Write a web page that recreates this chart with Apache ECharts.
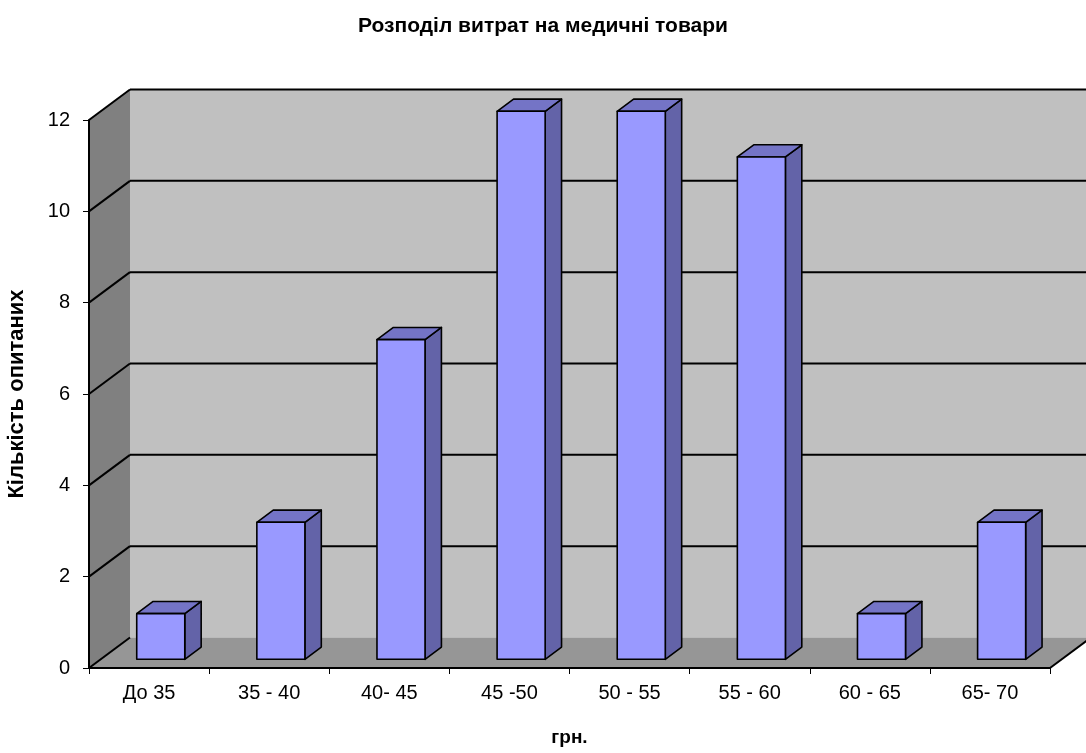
<!DOCTYPE html>
<html>
<head>
<meta charset="utf-8">
<style>
  html, body { margin: 0; padding: 0; background: #fff; }
  #chart { width: 1086px; height: 753px; }
</style>
<script src="https://cdn.jsdelivr.net/npm/echarts@6/dist/echarts.min.js"></script>
</head>
<body>
<div id="chart"></div>
<script>
// Spending ranges (UAH) and number of respondents in each
const categories = ['До 35', '35 - 40', '40- 45', '45 -50', '50 - 55', '55 - 60', '60 - 65', '65- 70'];
const respondents = [1, 3, 7, 12, 12, 11, 1, 3];
const yTicks = [0, 2, 4, 6, 8, 10, 12];

// Oblique projection of the depth axis (pixels for full depth)
const DEPTH_X = 41;
const DEPTH_Y = -30.5;
// Bars occupy this slice of the depth and of the category band
const BAR_FRONT = 0.285;
const BAR_BACK = 0.685;
const BAR_WIDTH = 0.4;

const FONT = '"Liberation Sans", Arial, sans-serif';

const chart = echarts.init(document.getElementById('chart'));

function wallsItem(params, api) {
  const band = api.size([1, 0])[0];
  const first = api.coord([0, 0]);
  const last = api.coord([categories.length - 1, 0]);
  const xL = first[0] - band / 2;
  const xR = last[0] + band / 2;
  const y0 = first[1];
  const yTop = api.coord([0, yTicks[yTicks.length - 1]])[1];
  const children = [];
  // back wall
  children.push({
    type: 'polygon',
    shape: { points: [[xL + DEPTH_X, yTop + DEPTH_Y], [xR + DEPTH_X, yTop + DEPTH_Y], [xR + DEPTH_X, y0 + DEPTH_Y], [xL + DEPTH_X, y0 + DEPTH_Y]] },
    style: { fill: '#C0C0C0' }
  });
  // side wall
  children.push({
    type: 'polygon',
    shape: { points: [[xL, yTop], [xL + DEPTH_X, yTop + DEPTH_Y], [xL + DEPTH_X, y0 + DEPTH_Y], [xL, y0]] },
    style: { fill: '#808080' }
  });
  // floor
  children.push({
    type: 'polygon',
    shape: { points: [[xL, y0], [xR, y0], [xR + DEPTH_X, y0 + DEPTH_Y], [xL + DEPTH_X, y0 + DEPTH_Y]] },
    style: { fill: '#969696' }
  });
  children.push({
    type: 'line',
    shape: { x1: xR, y1: y0, x2: xR + DEPTH_X, y2: y0 + DEPTH_Y },
    style: { stroke: '#000', lineWidth: 2 }
  });
  // gridlines across the side wall and the back wall
  yTicks.forEach(function (v) {
    const y = api.coord([0, v])[1];
    children.push({
      type: 'line',
      shape: { x1: xL, y1: y, x2: xL + DEPTH_X, y2: y + DEPTH_Y },
      style: { stroke: '#000', lineWidth: 2 }
    });
    if (v > 0) {
      children.push({
        type: 'line',
        shape: { x1: xL + DEPTH_X, y1: y + DEPTH_Y, x2: xR + DEPTH_X + 10, y2: y + DEPTH_Y },
        style: { stroke: '#000', lineWidth: 2 }
      });
    }
  });
  return { type: 'group', children: children };
}

function barItem(params, api) {
  const idx = api.value(0);
  const top = api.coord([idx, api.value(1)]);
  const base = api.coord([idx, 0]);
  const band = api.size([1, 0])[0];
  const w = band * BAR_WIDTH;
  const fx = BAR_FRONT * DEPTH_X, fy = BAR_FRONT * DEPTH_Y;
  const bx = (BAR_BACK - BAR_FRONT) * DEPTH_X, by = (BAR_BACK - BAR_FRONT) * DEPTH_Y;
  const x0 = top[0] - w / 2 + fx, x1 = top[0] + w / 2 + fx;
  const yT = top[1] + fy, yB = base[1] + fy;
  const edge = { stroke: '#000', lineWidth: 1.6, lineJoin: 'round' };
  return {
    type: 'group',
    children: [
      {
        type: 'polygon',
        shape: { points: [[x1, yT], [x1 + bx, yT + by], [x1 + bx, yB + by], [x1, yB]] },
        style: Object.assign({ fill: '#6363A8' }, edge)
      },
      {
        type: 'polygon',
        shape: { points: [[x0, yT], [x0 + bx, yT + by], [x1 + bx, yT + by], [x1, yT]] },
        style: Object.assign({ fill: '#7474C6' }, edge)
      },
      {
        type: 'polygon',
        shape: { points: [[x0, yT], [x1, yT], [x1, yB], [x0, yB]] },
        style: Object.assign({ fill: '#9999FF' }, edge)
      }
    ]
  };
}

chart.setOption({
  animation: false,
  backgroundColor: '#fff',
  title: {
    text: 'Розподіл витрат на медичні товари',
    left: 'center',
    top: 14,
    padding: 0,
    textStyle: { fontFamily: FONT, fontSize: 21, fontWeight: 'bold', color: '#000', lineHeight: 24 }
  },
  grid: { left: 89, right: 36, top: 120, bottom: 85, containLabel: false, outerBoundsMode: 'none' },
  xAxis: {
    type: 'category',
    data: categories,
    z: 10,
    name: 'грн.',
    nameLocation: 'middle',
    nameGap: 60,
    nameTextStyle: { fontFamily: FONT, fontSize: 19, fontWeight: 'bold', color: '#000' },
    axisLine: { show: true, lineStyle: { color: '#000', width: 2 } },
    axisTick: { show: true, length: 6, lineStyle: { color: '#000', width: 1 } },
    axisLabel: { fontFamily: FONT, fontSize: 20, color: '#000', margin: 15 },
    splitLine: { show: false }
  },
  yAxis: {
    type: 'value',
    min: yTicks[0],
    max: yTicks[yTicks.length - 1],
    interval: yTicks[1] - yTicks[0],
    z: 10,
    name: 'Кількість опитаних',
    nameLocation: 'middle',
    nameRotate: 90,
    nameGap: 61,
    nameTextStyle: { fontFamily: FONT, fontSize: 22, fontWeight: 'bold', color: '#000' },
    axisLine: { show: true, lineStyle: { color: '#000', width: 2 } },
    axisTick: { show: true, length: 6, lineStyle: { color: '#000', width: 1 } },
    axisLabel: { fontFamily: FONT, fontSize: 20, color: '#000', margin: 19 },
    splitLine: { show: false }
  },
  series: [
    {
      type: 'custom',
      name: 'walls',
      z: 1,
      clip: false,
      silent: true,
      data: [[0, 0]],
      renderItem: wallsItem
    },
    {
      type: 'custom',
      name: 'Кількість опитаних',
      z: 3,
      clip: false,
      data: respondents.map(function (v, i) { return [i, v]; }),
      encode: { x: 0, y: 1 },
      renderItem: barItem
    }
  ]
});
</script>
</body>
</html>
